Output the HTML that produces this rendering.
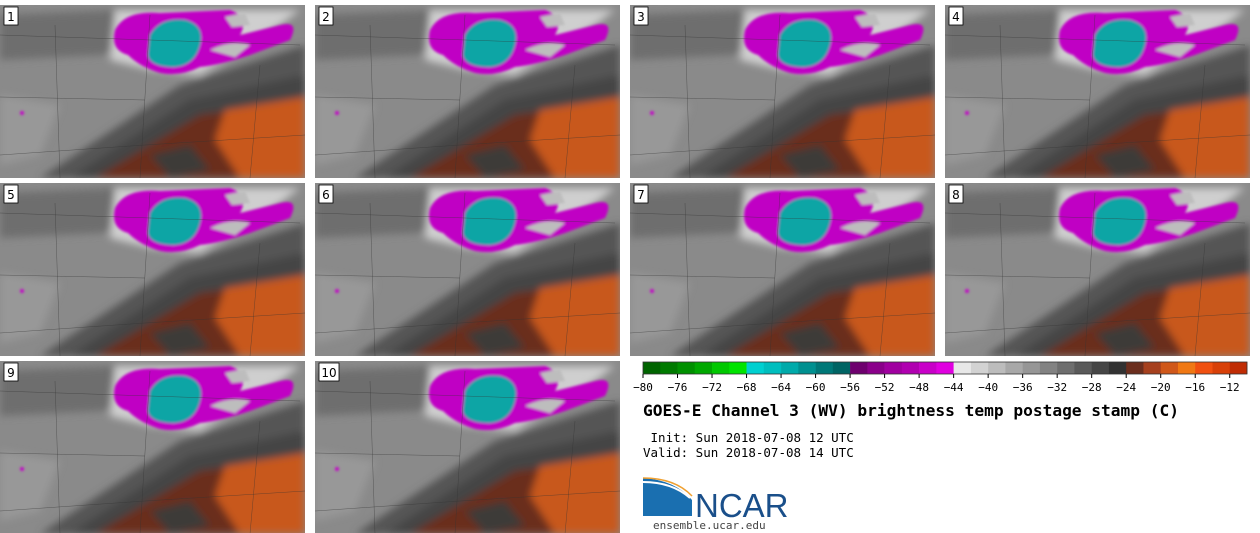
<!DOCTYPE html>
<html><head><meta charset="utf-8"><style>
body{margin:0;background:#fff;width:1260px;height:533px;overflow:hidden;font-family:"DejaVu Sans Mono","Liberation Mono",monospace;}
svg{position:absolute;left:0;top:0}
</style></head><body>
<svg id="s" width="1260" height="533">
<defs>
<filter id="bl" x="-20%" y="-20%" width="140%" height="140%"><feGaussianBlur stdDeviation="4"/></filter>
<filter id="bl2"><feGaussianBlur stdDeviation="1.2"/></filter>
<g id="map">
 <rect width="305" height="173" fill="#8a8a8a"/>
 <g filter="url(#bl)">
  <path d="M0 10 L120 5 L150 40 L100 50 L0 55Z" fill="#6e6e6e"/>
  <path d="M0 90 L60 100 L40 150 L0 160Z" fill="#989898"/>
  <path d="M40 173 L180 80 L305 40 L305 110 L200 150 L120 173Z" fill="#555"/>
  <path d="M70 173 L190 95 L305 70 L305 95 L210 130 L130 173Z" fill="#444"/>
  <path d="M95 173 L200 110 L305 95 L305 173Z" fill="#6b2e1e"/>
  <path d="M225 105 L305 92 L305 173 L240 173 L215 135Z" fill="#c8591a"/>
  <path d="M150 150 L190 140 L210 165 L170 173Z" fill="#3c3a38"/>
  <path d="M110 55 L150 65 L200 70 L280 20 L300 5 L115 5Z" fill="#cfcfcf"/>
 </g>
 <g filter="url(#bl2)">
  <path d="M115 25 Q125 5 160 8 L230 5 Q250 12 240 30 L280 20 Q300 15 290 35 L250 50 Q220 60 200 62 Q180 72 160 68 Q140 62 128 50 Q110 45 115 25Z" fill="#c000c4"/>
  <path d="M210 45 Q230 35 250 40 L235 52Z M225 12 L245 8 L250 20 L232 22Z" fill="#bdbdbd"/>
  <path d="M150 30 Q160 12 185 15 Q205 20 200 40 Q195 60 175 62 Q150 62 148 50Z" fill="#0aa5a5"/>
  <circle cx="22" cy="108" r="2" fill="#c400c8"/>
 </g>
 <path d="M0 30 L300 40 M55 20 L60 173 M0 92 L145 95 M150 10 L140 173 M0 150 L145 140 L305 130 M260 60 L250 173" stroke="#333" stroke-width="0.5" fill="none" opacity="0.6"/>
</g>
</defs>
<g id="panels"></g>
<g id="cbar"></g>
<text x="643" y="416" font-size="16.2" font-weight="bold" fill="#000" font-family="DejaVu Sans Mono,monospace">GOES-E Channel 3 (WV) brightness temp postage stamp (C)</text>
<text x="643" y="442" font-size="12.5" fill="#000" xml:space="preserve" font-family="DejaVu Sans Mono,monospace"> Init: Sun 2018-07-08 12 UTC</text>
<text x="643" y="457" font-size="12.5" fill="#000" font-family="DejaVu Sans Mono,monospace">Valid: Sun 2018-07-08 14 UTC</text>
<g>
 <path d="M643 478 Q675 480 692 500 L692 516 L643 516Z" fill="#1a6fb0"/>
 <path d="M643 482 Q672 482 690 498" stroke="#fff" stroke-width="2" fill="none"/>
 <path d="M643 478 Q675 478 692 496" stroke="#f0a030" stroke-width="1.5" fill="none"/>
 <text x="695" y="517" font-size="33" fill="#1a4f8a" font-family="Liberation Sans,sans-serif">NCAR</text>
</g>
<text x="653" y="529" font-size="11" fill="#444" font-family="DejaVu Sans Mono,monospace">ensemble.ucar.edu</text>
</svg>
<script>
const cbEdges=[-80,-78,-76,-74,-72,-70,-68,-66,-64,-62,-60,-58,-56,-54,-52,-50,-48,-46,-44,-42,-40,-38,-36,-34,-32,-30,-28,-26,-24,-22,-20,-18,-16,-14,-12,-10];
const cbColors=["#006400","#007a00","#009000","#00a800","#00c800","#00e400","#00d0d0","#00bebe","#00aaaa","#009090","#007878","#006464","#6e006e","#8a008a","#a000a0","#b000b0","#c800c8","#e000e0","#e8e8e8","#d2d2d2","#bcbcbc","#a8a8a8","#969696","#828282","#6e6e6e","#5a5a5a","#464646","#323232","#6b2e1e","#a6401e","#d0581a","#f07814","#f05010","#d84008","#c02c04"];
const cbTicks=[-80,-76,-72,-68,-64,-60,-56,-52,-48,-44,-40,-36,-32,-28,-24,-20,-16,-12];
const panelLabels=["1","2","3","4","5","6","7","8","9","10"];
const NS="http://www.w3.org/2000/svg";
const X0=643,X1=1247,Y0=362,H=12;
const xs=v=>X0+(v-(-80))/((-10)-(-80))*(X1-X0);
const cb=document.getElementById('cbar');


cbColors.forEach((c,i)=>{const r=document.createElementNS(NS,'rect');
r.setAttribute('x',xs(cbEdges[i]));r.setAttribute('y',Y0);r.setAttribute('width',xs(cbEdges[i+1])-xs(cbEdges[i])+0.3);r.setAttribute('height',H);r.setAttribute('fill',c);


cb.appendChild(r);});
const fr=document.createElementNS(NS,'rect');fr.setAttribute('x',X0);fr.setAttribute('y',Y0);fr.setAttribute('width',X1-X0);fr.setAttribute('height',H);fr.setAttribute('fill','none');fr.setAttribute('stroke','#333');fr.setAttribute('stroke-width','0.8');


cb.appendChild(fr);
cbTicks.forEach(t=>{const l=document.createElementNS(NS,'line');l.setAttribute('x1',xs(t));l.setAttribute('x2',xs(t));l.setAttribute('y1',Y0+H);l.setAttribute('y2',Y0+H+4);l.setAttribute('stroke','#000');cb.appendChild(l);
const tx=document.createElementNS(NS,'text');tx.setAttribute('x',xs(t));tx.setAttribute('y',391);tx.setAttribute('font-size','11');tx.setAttribute('text-anchor','middle');tx.setAttribute('font-family','DejaVu Sans Mono,monospace');tx.textContent='\u2212'+Math.abs(t);


cb.appendChild(tx);});
const pg=document.getElementById('panels');
const colX=[0,315,630,945],rowY=[5,183,361];
panelLabels.forEach((lab,i)=>{const x=colX[i%4],y=rowY[Math.floor(i/4)];
const g=document.createElementNS(NS,'g');g.setAttribute('transform',`translate(${x},${y})`);


const cp=document.createElementNS(NS,'clipPath');cp.setAttribute('id','c'+i);const cr=document.createElementNS(NS,'rect');cr.setAttribute('width',305);cr.setAttribute('height',i>=8?172:173);cp.appendChild(cr);g.appendChild(cp);
const u=document.createElementNS(NS,'use');u.setAttribute('href','#map');u.setAttribute('clip-path',`url(#c${i})`);g.appendChild(u);
const b=document.createElementNS(NS,'rect');b.setAttribute('x',4);b.setAttribute('y',2);b.setAttribute('width',lab.length>1?20:14);b.setAttribute('height',18);b.setAttribute('fill','#fff');b.setAttribute('stroke','#000');b.setAttribute('stroke-width','0.8');g.appendChild(b);
const t=document.createElementNS(NS,'text');t.setAttribute('x',lab.length>1?14:11);t.setAttribute('y',16);t.setAttribute('font-size','12');t.setAttribute('text-anchor','middle');t.setAttribute('font-family','DejaVu Sans,sans-serif');t.textContent=lab;


g.appendChild(t);pg.appendChild(g);});
</script>
</body></html>
